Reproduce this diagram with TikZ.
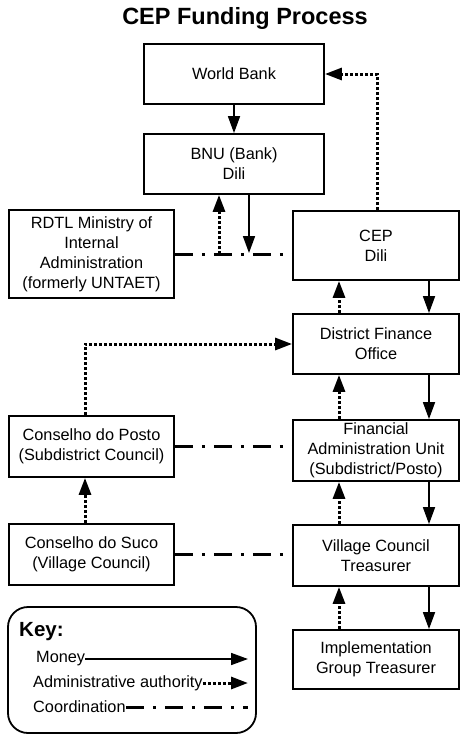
\documentclass[tikz,border=0pt]{standalone}
\usepackage{fontspec}
\setmainfont{Liberation Sans}
\usetikzlibrary{arrows.meta}
\begin{document}
\begin{tikzpicture}[x=1pt,y=-1pt,
  box/.style={draw,line width=1.8pt,inner sep=0pt,align=center,font=\fontsize{16.3}{20}\selectfont},
  money/.style={line width=1.7pt,-{Triangle[length=17pt,width=12pt]}},
  admin/.style={line width=3pt,dash pattern=on 3.5pt off 1.5pt,-{Triangle[length=17pt,width=12pt]}},
  coord/.style={line width=3pt,dash pattern=on 18pt off 9pt on 3pt off 9pt},
  keytext/.style={inner sep=0pt,anchor=west,font=\fontsize{16.3}{20}\selectfont}]
\useasboundingbox (0,0) rectangle (469,745);
\node[font=\fontsize{23.5}{26}\selectfont\bfseries] (title) at (245,18) {CEP Funding Process};
\node[box,minimum width=180pt,minimum height=60pt] (wb) at (234,74) {World Bank};
\node[box,minimum width=180pt,minimum height=60pt] (bnu) at (234,164) {BNU (Bank)\\Dili};
\node[box,minimum width=165pt,minimum height=88pt] (rdtl) at (91.5,254) {RDTL Ministry of\\Internal\\Administration\\(formerly UNTAET)};
\node[box,minimum width=166pt,minimum height=69pt] (cep) at (376,245.5) {CEP\\Dili};
\node[box,minimum width=166pt,minimum height=60pt] (dfo) at (376,344) {District Finance\\Office};
\node[box,minimum width=166pt,minimum height=61pt] (fau) at (376,450.5) {Financial\\Administration Unit\\(Subdistrict/Posto)};
\node[box,minimum width=165pt,minimum height=61pt] (posto) at (91.5,446.5) {Conselho do Posto\\(Subdistrict Council)};
\node[box,minimum width=165pt,minimum height=61pt] (suco) at (91.5,554.5) {Conselho do Suco\\(Village Council)};
\node[box,minimum width=166pt,minimum height=61pt] (vct) at (376,555.5) {Village Council\\Treasurer};
\node[box,minimum width=166pt,minimum height=59pt] (igt) at (376,659.5) {Implementation\\Group Treasurer};
% coordination lines
\draw[coord] (rdtl.east) -- (rdtl.east -| cep.west);
\draw[coord] (posto.east) -- (posto.east -| fau.west);
\draw[coord] (suco.east) -- (suco.east -| vct.west);
% money
\coordinate (bnuin) at (249,253);
\coordinate (bnuout) at (219,254);
\draw[money] (wb.south) -- (bnu.south |- bnu.north);
\draw[money] ([xshift=15pt]bnu.south) -- (bnuin);
\draw[money] ([xshift=53pt]cep.south) -- ([xshift=53pt]dfo.north);
\draw[money] ([xshift=53pt]dfo.south) -- ([xshift=53pt]fau.north);
\draw[money] ([xshift=53pt]fau.south) -- ([xshift=53pt]vct.north);
\draw[money] ([xshift=53pt]vct.south) -- ([xshift=53pt]igt.north);
% admin
\draw[admin] (bnuout) -- ([xshift=-15pt]bnu.south);
\draw[admin] ([xshift=1pt]cep.north) |- (wb.east);
\draw[admin] ([xshift=-37pt]dfo.north) -- ([xshift=-37pt]cep.south);
\draw[admin] ([xshift=-37pt]fau.north) -- ([xshift=-37pt]dfo.south);
\draw[admin] ([xshift=-37pt]vct.north) -- ([xshift=-37pt]fau.south);
\draw[admin] ([xshift=-37pt]igt.north) -- ([xshift=-37pt]vct.south);
\draw[admin] ([xshift=-6.5pt]posto.north) |- (dfo.west);
\draw[admin] ([xshift=-6.5pt]suco.north) -- ([xshift=-6.5pt]posto.south);
% key
\draw[line width=1.8pt,rounded corners=20pt] (8,607) rectangle (256,733);
\node[inner sep=0pt,anchor=west,font=\fontsize{20.5}{24}\selectfont\bfseries] (keyt) at (19,632) {Key:};
\node[keytext] (kmoney) at (36,659) {Money};
\node[keytext] (kadmin) at (33,683) {Administrative authority};
\node[keytext] (kcoord) at (33,707) {Coordination};
\coordinate (kmoneyend) at (248,659);
\coordinate (kadminend) at (248,683);
\coordinate (kcoordend) at (248,707);
\draw[money] (kmoney.east) -- (kmoneyend);
\draw[admin] (kadmin.east) -- (kadminend);
\draw[coord] (kcoord.east) -- (kcoordend);
\end{tikzpicture}
\end{document}
